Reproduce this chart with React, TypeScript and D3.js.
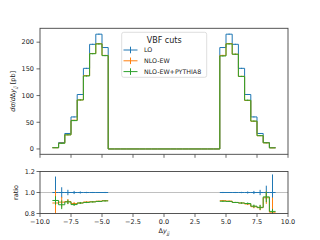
import React from "react";
import * as d3 from "d3";

// bin edges in Δy_jj (0.5 wide), 36 bins
const binEdges = [
  -9, -8.5, -8, -7.5, -7, -6.5, -6, -5.5, -5, -4.5, -4, -3.5, -3, -2.5, -2, -1.5, -1, -0.5, 0,
  0.5, 1, 1.5, 2, 2.5, 3, 3.5, 4, 4.5, 5, 5.5, 6, 6.5, 7, 7.5, 8, 8.5, 9,
];
const zeros = [0, 0, 0, 0, 0, 0, 0, 0, 0, 0, 0, 0, 0, 0, 0, 0, 0, 0];

// dσ/dΔy_jj [pb]
const lo = [2.5, 12, 29, 60, 102, 151, 196, 215, 190, ...zeros, 190, 215, 196, 151, 102, 60, 29, 12, 2.5];
const nloEW = [2.25, 10.9, 26.5, 53.7, 91.8, 137.4, 178.8, 197.2, 175.2, ...zeros, 175.2, 197.4, 177.4, 135.9, 90.8, 51.9, 24.8, 11.4, 2.03];
const nloEWPy8 = [2.31, 10.6, 26.4, 53.1, 91.8, 136.7, 178.4, 196.7, 174.8, ...zeros, 174.2, 196.7, 177.4, 135.9, 91.3, 52.2, 24.9, 11.5, 2.05];

// statistical errors [pb]
const loErr = [0.38, 0.6, 0.75, 0.9, 1.0, 0.9, 1.0, 1.0, 1.0, ...zeros, 1.0, 1.0, 1.0, 0.9, 1.0, 0.9, 0.73, 0.78, 0.43];
const nloEWErr = [0.3, 0.6, 0.7, 0.9, 1.0, 0.9, 1.0, 1.0, 1.0, ...zeros, 1.0, 1.0, 1.0, 0.9, 1.0, 0.9, 0.7, 0.7, 0.35];
const nloEWPy8Err = [0.1, 0.5, 0.6, 0.8, 0.9, 0.9, 1.0, 1.0, 1.0, ...zeros, 1.0, 1.0, 1.0, 0.9, 1.0, 0.9, 0.7, 0.6, 0.06];

const seriesNames = ["LO", "NLO-EW", "NLO-EW+PYTHIA8"];
const colors = ["#1f77b4", "#ff7f0e", "#2ca02c"];
const xTicks = [-10, -7.5, -5, -2.5, 0, 2.5, 5, 7.5, 10];
const yTicksMain = [0, 50, 100, 150, 200];
const yTicksRatio = [0.8, 1.0, 1.2];

const font = "DejaVu Sans, sans-serif";
const spine = "#444";

const fmtTick = (v: number) => d3.format(".1f")(v).replace("-", "\u2212");

type Pt = [number, number];

function stepPoints(idx: number[], vals: number[]): Pt[] {
  const pts: Pt[] = idx.map((i) => [binEdges[i], vals[i]] as Pt);
  const last = idx[idx.length - 1];
  pts.push([binEdges[last + 1], vals[last]]);
  return pts;
}

// split bins into runs where LO is non-zero (ratio defined)
function runs(): number[][] {
  const out: number[][] = [];
  let cur: number[] = [];
  lo.forEach((v, i) => {
    if (v > 0) cur.push(i);
    else if (cur.length) {
      out.push(cur);
      cur = [];
    }
  });
  if (cur.length) out.push(cur);
  return out;
}

export default function App() {
  const width = 320;
  const height = 240;
  const left = 40;
  const right = 288;
  const mainTop = 28.3;
  const mainBottom = 154.3;
  const ratioTop = 171.5;
  const ratioBottom = 213.5;

  const x = d3.scaleLinear().domain([-10, 10]).range([left, right]);
  const y = d3.scaleLinear().domain([-10, 226]).range([mainBottom, mainTop]);
  const yr = d3.scaleLinear().domain([0.8, 1.2]).range([ratioBottom, ratioTop]);

  const values = [lo, nloEW, nloEWPy8];
  const errs = [loErr, nloEWErr, nloEWPy8Err];
  const allIdx = lo.map((_, i) => i);
  const centers = lo.map((_, i) => (binEdges[i] + binEdges[i + 1]) / 2);

  const mainLine = d3
    .line<Pt>()
    .x((d) => x(d[0]))
    .y((d) => y(d[1]))
    .curve(d3.curveStepAfter);
  const ratioLine = d3
    .line<Pt>()
    .x((d) => x(d[0]))
    .y((d) => yr(d[1]))
    .curve(d3.curveStepAfter);

  const segs = runs();
  const ratios = values.map((vals) => vals.map((v, i) => (lo[i] > 0 ? v / lo[i] : NaN)));
  const ratioErrs = errs.map((e) => e.map((v, i) => (lo[i] > 0 ? v / lo[i] : NaN)));

  return (
    <svg width={width} height={height} style={{ position: "absolute", left: 0, top: 0 }} fontFamily={font}>
      <defs>
        <clipPath id="clipMain">
          <rect x={left} y={mainTop} width={right - left} height={mainBottom - mainTop} />
        </clipPath>
        <clipPath id="clipRatio">
          <rect x={left} y={ratioTop} width={right - left} height={ratioBottom - ratioTop} />
        </clipPath>
      </defs>
      <rect width={width} height={height} fill="#fff" />

      {/* main panel */}
      <g clipPath="url(#clipMain)">
        {values.map((vals, s) => (
          <g key={seriesNames[s]} stroke={colors[s]} fill="none" strokeWidth={1}>
            <path d={mainLine(stepPoints(allIdx, vals)) || ""} />
            {allIdx
              .filter((i) => errs[s][i] > 0)
              .map((i) => (
                <line
                  key={i}
                  x1={x(centers[i])}
                  x2={x(centers[i])}
                  y1={y(vals[i] - errs[s][i])}
                  y2={y(vals[i] + errs[s][i])}
                />
              ))}
          </g>
        ))}
      </g>
      <rect x={left} y={mainTop} width={right - left} height={mainBottom - mainTop} fill="none" stroke={spine} strokeWidth={0.9} />
      {yTicksMain.map((t) => (
        <g key={t} transform={`translate(0,${y(t)})`}>
          <line x1={left - 3.5} x2={left} stroke={spine} strokeWidth={0.8} />
          <text x={left - 6} dy="0.35em" fontSize={6.5} textAnchor="end" fill="#222">
            {t}
          </text>
        </g>
      ))}
      {xTicks.map((t) => (
        <line key={t} x1={x(t)} x2={x(t)} y1={mainBottom} y2={mainBottom + 3.5} stroke={spine} strokeWidth={0.8} />
      ))}
      <text transform={`translate(13,${(mainTop + mainBottom) / 2}) rotate(-90)`} fontSize={6.5} textAnchor="middle" dy="0.35em" fill="#222">
        <tspan fontStyle="italic">d</tspan>
        <tspan fontStyle="italic">σ</tspan>
        <tspan>/</tspan>
        <tspan fontStyle="italic">d</tspan>
        <tspan>Δ</tspan>
        <tspan fontStyle="italic">y</tspan>
        <tspan fontStyle="italic" fontSize={4.6} dy="1.5">jj</tspan>
        <tspan dy="-1.5"> [pb]</tspan>
      </text>

      {/* legend */}
      <g>
        <rect x={121.7} y={32.3} width={85} height={45} rx={2} fill="#fff" fillOpacity={0.8} stroke="#d6d6d6" strokeWidth={0.8} />
        <text x={164.2} y={43} fontSize={8} textAnchor="middle" fill="#222">
          VBF cuts
        </text>
        {seriesNames.map((name, s) => {
          const cy = 50 + s * 10.8;
          return (
            <g key={name} stroke={colors[s]} strokeWidth={1}>
              <line x1={123.5} x2={137.5} y1={cy} y2={cy} />
              <line x1={130.5} x2={130.5} y1={cy - 3.3} y2={cy + 3.3} />
              <text x={144} y={cy} dy="0.35em" fontSize={6.3} stroke="none" fill="#222">
                {name}
              </text>
            </g>
          );
        })}
      </g>

      {/* ratio panel */}
      <line x1={left} x2={right} y1={yr(1)} y2={yr(1)} stroke="#b0b0b0" strokeWidth={0.8} />
      <g clipPath="url(#clipRatio)">
        {ratios.map((rv, s) => (
          <g key={seriesNames[s]} stroke={colors[s]} fill="none" strokeWidth={1}>
            {segs.map((seg, k) => (
              <path key={k} d={ratioLine(stepPoints(seg, rv)) || ""} />
            ))}
            {segs.flat().map((i) => (
              <line
                key={i}
                x1={x(centers[i])}
                x2={x(centers[i])}
                y1={yr(rv[i] - ratioErrs[s][i])}
                y2={yr(rv[i] + ratioErrs[s][i])}
              />
            ))}
          </g>
        ))}
      </g>
      <rect x={left} y={ratioTop} width={right - left} height={ratioBottom - ratioTop} fill="none" stroke={spine} strokeWidth={0.9} />
      {yTicksRatio.map((t) => (
        <g key={t} transform={`translate(0,${yr(t)})`}>
          <line x1={left - 3.5} x2={left} stroke={spine} strokeWidth={0.8} />
          <text x={left - 5} dy="0.35em" fontSize={6.5} textAnchor="end" fill="#222">
            {t.toFixed(1)}
          </text>
        </g>
      ))}
      {xTicks.map((t) => (
        <g key={t} transform={`translate(${x(t)},${ratioBottom})`}>
          <line y1={0} y2={3.5} stroke={spine} strokeWidth={0.8} />
          <text y={10.6} fontSize={6.5} textAnchor="middle" fill="#222">
            {fmtTick(t)}
          </text>
        </g>
      ))}
      <text transform={`translate(15.5,${(ratioTop + ratioBottom) / 2}) rotate(-90)`} fontSize={6.5} textAnchor="middle" dy="0.35em" fill="#222">
        ratio
      </text>
      <text x={(left + right) / 2} y={233} fontSize={6.5} textAnchor="middle" fill="#222">
        <tspan>Δ</tspan>
        <tspan fontStyle="italic">y</tspan>
        <tspan fontStyle="italic" fontSize={4.6} dy="1.5">jj</tspan>
      </text>
    </svg>
  );
}
